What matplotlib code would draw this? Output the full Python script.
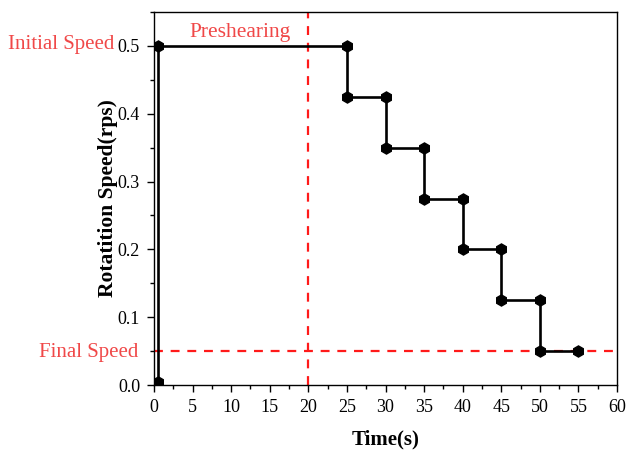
import matplotlib.pyplot as plt
from matplotlib.ticker import MultipleLocator

# data
time_s = [0.5, 0.5, 25, 25, 30, 30, 35, 35, 40, 40, 45, 45, 50, 50, 55]
speed_rps = [0.005, 0.5, 0.5, 0.425, 0.425, 0.35, 0.35, 0.275, 0.275,
             0.2, 0.2, 0.125, 0.125, 0.05, 0.05]
preshear_end = 20
final_speed = 0.05
initial_speed = 0.5

plt.rcParams['font.family'] = ['Liberation Serif', 'DejaVu Serif']

fig = plt.figure(figsize=(6.27, 4.53), dpi=100)
ax = fig.add_axes([154 / 627, 68 / 453, 463 / 627, 373 / 453])

ax.plot(time_s, speed_rps, color='black', lw=1.9, marker='h', ms=8,
        zorder=3)

# reference lines
ax.axvline(preshear_end, color='#ff1a1a', ls=(0, (4, 3.5)), lw=1.6)
ax.axhline(final_speed, color='#ff1a1a', ls=(0, (4, 3.5)), lw=1.6)

ax.set_xlim(0, 60)
ax.set_ylim(0, 0.55)
ax.xaxis.set_major_locator(MultipleLocator(5))
ax.xaxis.set_minor_locator(MultipleLocator(2.5))
ax.yaxis.set_major_locator(MultipleLocator(0.1))
ax.yaxis.set_minor_locator(MultipleLocator(0.05))
ax.tick_params(which='major', direction='out', length=5, width=1,
               labelsize=13, pad=5)
ax.tick_params(which='minor', direction='out', length=3, width=1)
for s in ax.spines.values():
    s.set_linewidth(1)

ax.set_xlabel('Time(s)', fontsize=15, fontweight='bold', labelpad=10)
ax.set_ylabel('Rotatition Speed(rps)', fontsize=15.5, fontweight='bold',
              labelpad=0)

# red annotations
red = '#f04848'
ax.text(11.1, 0.52, 'Preshearing', color=red, fontsize=15.5,
        ha='center', va='center')
fig.text(8 / 627, 1 - 45 / 453, 'Initial Speed', color=red, fontsize=15,
         ha='left', va='center')
fig.text(138 / 627, 1 - 352 / 453, 'Final Speed', color=red, fontsize=15,
         ha='right', va='center')

plt.savefig('out.png', dpi=100)
